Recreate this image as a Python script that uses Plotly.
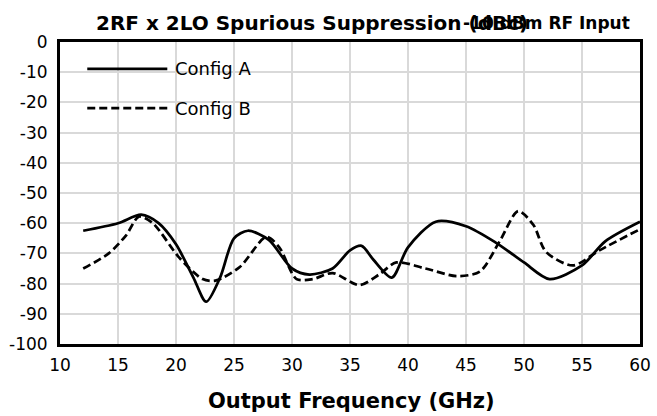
import plotly.graph_objects as go

freq_a = [12, 15, 17, 18.5, 20, 21.5, 22.6, 23.8, 25, 26.2, 28, 30, 31.5, 33.5, 35, 36,
          37, 38.6, 40, 42.4, 45, 47.6, 50, 52.2, 55, 57, 60]
config_a = [-62.5, -60, -57.2, -60, -67, -78, -86, -78, -65, -62.5, -65.5, -75, -77, -75,
            -69, -67.5, -72, -78, -68, -59.5, -61, -66.5, -73, -78.5, -74, -66, -59.5]

freq_b = [12, 14.2, 15.7, 16.8, 18, 20.3, 22.3, 23.4, 25.5, 27.8, 28.9, 30.4, 31.8, 33.5,
          35.8, 37.5, 39, 41.5, 44.2, 46.2, 47.9, 49.5, 50.8, 51.9, 54.2, 56.5, 60]
config_b = [-75, -70, -64, -57.8, -60, -71.5, -78.5, -79, -74.5, -64.5, -68, -78.5, -78.5,
            -76.5, -80.5, -77, -73, -75, -77.5, -76, -66, -56, -60.5, -69.5, -74, -69, -62]

series_names = ["Config A", "Config B"]
title_main = "2RF x 2LO Spurious Suppression (dBc)"
title_sub = "-10 dBm RF Input"
x_title = "Output Frequency (GHz)"
x_ticks = list(range(10, 61, 5))
y_ticks = list(range(-100, 1, 10))
y_tick_text = [str(v) for v in y_ticks]

FONT = "DejaVu Sans"
DASH = "8px,4px"

fig = go.Figure()
fig.add_trace(go.Scatter(x=freq_a, y=config_a, mode="lines", name=series_names[0],
                         line=dict(color="black", width=2.75, shape="spline", smoothing=0.8),
                         showlegend=False))
fig.add_trace(go.Scatter(x=freq_b, y=config_b, mode="lines", name=series_names[1],
                         line=dict(color="black", width=2.75, dash=DASH, shape="spline", smoothing=0.8),
                         showlegend=False))

# manual legend (white box, long line samples)
fig.add_shape(type="rect", xref="paper", yref="paper", x0=0.0207, x1=0.341, y0=0.732, y1=0.98,
              fillcolor="white", line=dict(width=0), layer="between")
legend_rows = [(0.911, "solid"), (0.781, DASH)]
for (yy, dash), name in zip(legend_rows, series_names):
    fig.add_shape(type="line", xref="paper", yref="paper", x0=0.047, x1=0.185, y0=yy, y1=yy,
                  line=dict(color="black", width=2.75, dash=dash), layer="above")
    fig.add_annotation(xref="paper", yref="paper", x=0.195, y=yy, text=name, showarrow=False,
                       xanchor="left", yanchor="middle", font=dict(family=FONT, size=18, color="black"))

# overlapping title texts
fig.add_annotation(xref="paper", yref="paper", x=0.058, y=1.0, yshift=19, text="<b>" + title_main + "</b>",
                   showarrow=False, xanchor="left", yanchor="middle",
                   font=dict(family=FONT, size=20, color="black"))
fig.add_annotation(xref="paper", yref="paper", x=0.986, y=1.0, yshift=19, text="<b>" + title_sub + "</b>",
                   showarrow=False, xanchor="right", yanchor="middle",
                   font=dict(family=FONT, size=17, color="black"))
# x-axis title
fig.add_annotation(xref="paper", yref="paper", x=0.503, y=0.0, yshift=-57, text="<b>" + x_title + "</b>",
                   showarrow=False, xanchor="center", yanchor="middle",
                   font=dict(family=FONT, size=21, color="black"))

fig.update_layout(
    width=657, height=416,
    margin=dict(l=60, r=17, t=42, b=72),
    paper_bgcolor="white", plot_bgcolor="white",
    font=dict(family=FONT, size=17, color="black"),
    xaxis=dict(range=[10, 60], tickvals=x_ticks, showgrid=True, gridcolor="#d9d9d9", gridwidth=1.5,
               showline=True, linecolor="black", linewidth=3, mirror=True, zeroline=False,
               ticks="outside", ticklen=4, tickcolor="rgba(0,0,0,0)", automargin=False,
               tickfont=dict(family=FONT, size=17)),
    yaxis=dict(range=[-100, 0], tickvals=y_ticks, ticktext=y_tick_text, showgrid=True,
               gridcolor="#d9d9d9", gridwidth=1.5,
               showline=True, linecolor="black", linewidth=3, mirror=True, zeroline=False,
               ticks="outside", ticklen=6, tickcolor="rgba(0,0,0,0)", automargin=False,
               tickfont=dict(family=FONT, size=17)),
)

fig.write_html("out.html", config={"displayModeBar": False},
               post_script="document.body.style.margin='0';")
